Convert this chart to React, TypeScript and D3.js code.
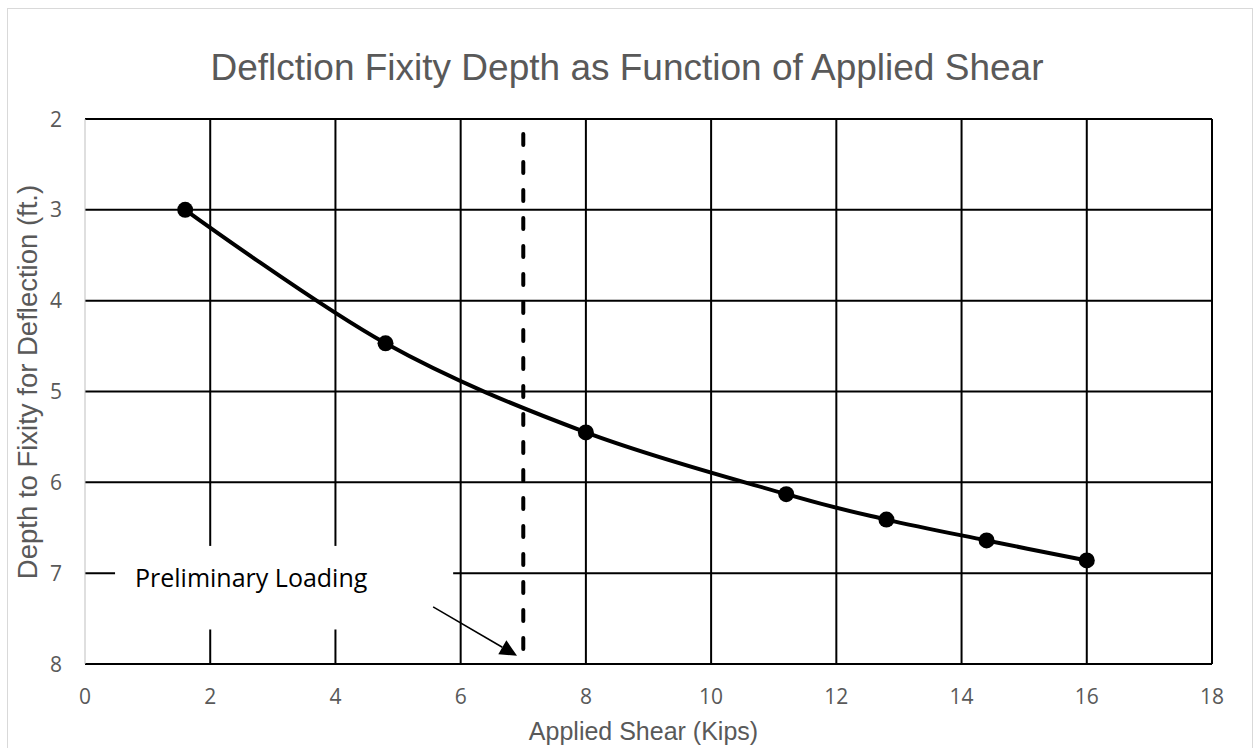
import React, { useEffect } from "react";
import * as d3 from "d3";

// applied shear (kips) vs depth to fixity (ft.)
const shear = [1.6, 4.8, 8, 11.2, 12.8, 14.4, 16];
const depth = [3.0, 4.47, 5.45, 6.13, 6.41, 6.64, 6.86];

const xTicks = [0, 2, 4, 6, 8, 10, 12, 14, 16, 18];
const yTicks = [2, 3, 4, 5, 6, 7, 8];

const loadingShear = 7;
// annotation arrow: [shear, depth] from label towards the dashed line
const arrowFrom = [5.56, 7.37];
const arrowTo = [6.9, 7.91];
// annotation box corners in data units
const boxCorner1 = [0.48, 6.7];
const boxCorner2 = [5.88, 7.62];

const TITLE = "Deflction Fixity Depth as Function of Applied Shear";
const X_LABEL = "Applied Shear (Kips)";
const Y_LABEL = "Depth to Fixity for Deflection (ft.)";
const NOTE = "Preliminary Loading";

const W = 1256;
const H = 748;
const margin = { top: 119, right: 44, bottom: 84, left: 85 };

const TEXT_GRAY = "#595959";

export default function App() {
    useEffect(() => {
        document.body.style.margin = "0";
    }, []);

    const x = d3.scaleLinear().domain([0, 18]).range([margin.left, W - margin.right]);
    const y = d3.scaleLinear().domain([2, 8]).range([margin.top, H - margin.bottom]);

    const pts = shear.map((s, i) => [s, depth[i]] as [number, number]);
    const line = d3
        .line<[number, number]>()
        .x(d => x(d[0]))
        .y(d => y(d[1]))
        .curve(d3.curveCardinal.tension(0));

    // arrowhead geometry
    const ax1 = x(arrowFrom[0]);
    const ay1 = y(arrowFrom[1]);
    const ax2 = x(arrowTo[0]);
    const ay2 = y(arrowTo[1]);
    const ang = Math.atan2(ay2 - ay1, ax2 - ax1);
    const headLen = 17;
    const headW = 8;
    const bx = ax2 - headLen * Math.cos(ang);
    const by = ay2 - headLen * Math.sin(ang);
    const head = [
        [ax2, ay2],
        [bx + headW * Math.sin(ang), by - headW * Math.cos(ang)],
        [bx - headW * Math.sin(ang), by + headW * Math.cos(ang)],
    ]
        .map(p => p.join(","))
        .join(" ");

    const x0 = x(0);
    const x18 = x(18);
    const yTop = y(2);
    const yBot = y(8);

    return (
        <svg width={W} height={H} style={{ display: "block", background: "#fff" }}>
            {/* chart frame */}
            <rect x={7.5} y={8.5} width={1245} height={760} fill="#fff" stroke="#d9d9d9" strokeWidth={1} />

            <text
                x={627}
                y={80}
                textAnchor="middle"
                fill={TEXT_GRAY}
                style={{ font: "37px 'Liberation Sans', Arial, sans-serif" }}
            >
                {TITLE}
            </text>

            {/* grid */}
            <g>
                {xTicks.filter(t => t > 0).map(t => (
                    <line key={"gx" + t} x1={x(t)} x2={x(t)} y1={yTop} y2={yBot} stroke="#000" strokeWidth={2} />
                ))}
                {yTicks.map(t => (
                    <line key={"gy" + t} x1={x0} x2={x18} y1={y(t)} y2={y(t)} stroke="#000" strokeWidth={2} />
                ))}
                <line x1={x0} x2={x0} y1={yTop} y2={yBot} stroke="#bfbfbf" strokeWidth={1} />
            </g>

            {/* tick labels */}
            <g fill={TEXT_GRAY} style={{ font: "21px 'Open Sans', sans-serif" }}>
                {xTicks.map(t => (
                    <text key={"tx" + t} x={x(t)} y={704} textAnchor="middle">
                        {t}
                    </text>
                ))}
                {yTicks.map(t => (
                    <text key={"ty" + t} x={62} y={y(t)} dy="0.36em" textAnchor="end">
                        {t}
                    </text>
                ))}
            </g>

            {/* axis titles */}
            <text
                x={x(9) - 5}
                y={740}
                textAnchor="middle"
                fill={TEXT_GRAY}
                style={{ font: "25px 'Liberation Sans', Arial, sans-serif" }}
            >
                {X_LABEL}
            </text>
            <text
                transform={`translate(37,${382}) rotate(-90)`}
                textAnchor="middle"
                fill={TEXT_GRAY}
                style={{ font: "27.5px 'Liberation Sans', Arial, sans-serif" }}
            >
                {Y_LABEL}
            </text>

            {/* annotation box */}
            <rect
                x={x(boxCorner1[0])}
                y={y(boxCorner1[1])}
                width={x(boxCorner2[0]) - x(boxCorner1[0])}
                height={y(boxCorner2[1]) - y(boxCorner1[1])}
                fill="#fff"
            />
            <text x={135} y={587} fill="#000" style={{ font: "25px 'Open Sans', sans-serif" }}>
                {NOTE}
            </text>

            {/* preliminary loading marker */}
            <line
                x1={x(loadingShear)}
                x2={x(loadingShear)}
                y1={yTop}
                y2={yBot}
                stroke="#000"
                strokeWidth={4}
                strokeDasharray="11,17"
                strokeDashoffset={-15}
                strokeLinecap="round"
            />
            <line x1={ax1} y1={ay1} x2={bx} y2={by} stroke="#000" strokeWidth={1.5} />
            <polygon points={head} fill="#000" />

            {/* data */}
            <path d={line(pts) ?? ""} fill="none" stroke="#000" strokeWidth={4} />
            {pts.map((p, i) => (
                <circle key={i} cx={x(p[0])} cy={y(p[1])} r={8} fill="#000" />
            ))}
        </svg>
    );
}
